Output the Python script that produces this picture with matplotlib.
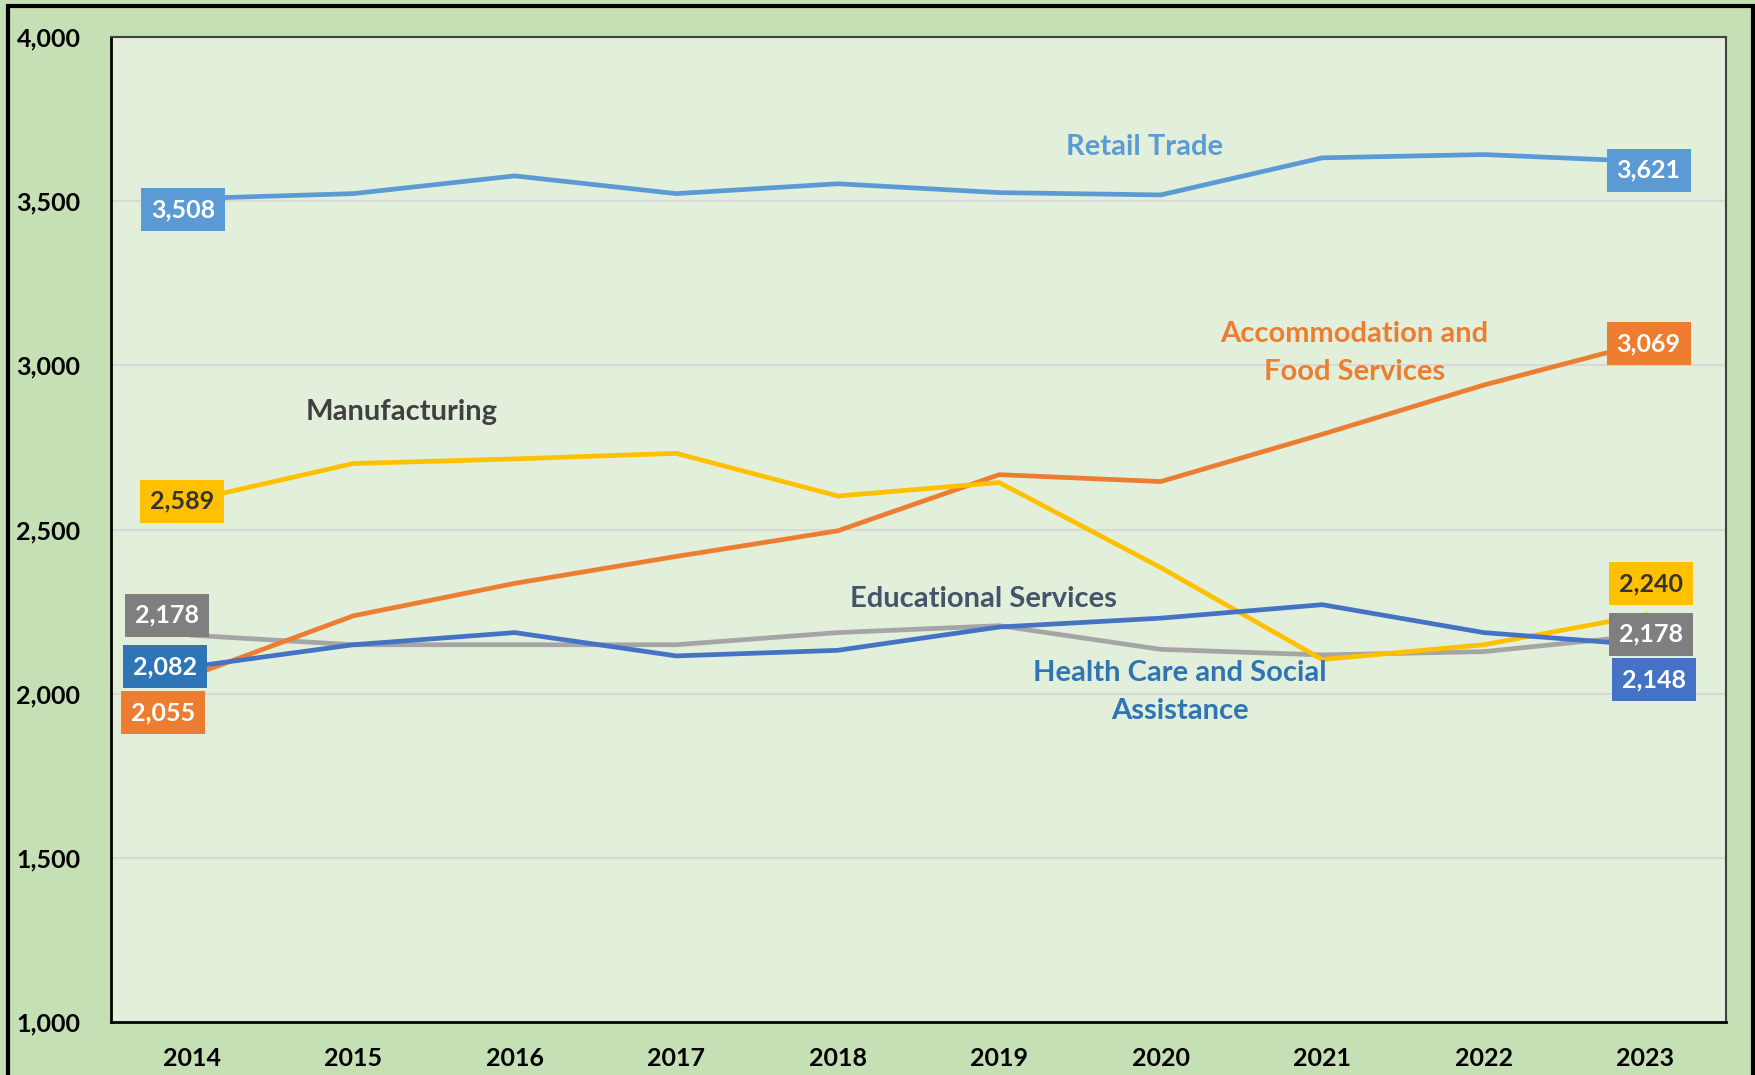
import matplotlib.pyplot as plt
from matplotlib.patches import Rectangle
from matplotlib.ticker import FuncFormatter

years = [2014, 2015, 2016, 2017, 2018, 2019, 2020, 2021, 2022, 2023]

retail = [3508, 3523, 3577, 3523, 3553, 3526, 3519, 3632, 3642, 3621]
accommodation = [2055, 2237, 2336, 2418, 2496, 2667, 2646, 2790, 2940, 3069]
manufacturing = [2589, 2701, 2715, 2732, 2602, 2643, 2384, 2104, 2149, 2240]
educational = [2178, 2149, 2149, 2149, 2186, 2207, 2135, 2118, 2128, 2178]
health = [2082, 2149, 2186, 2115, 2132, 2203, 2230, 2271, 2186, 2148]

plt.rcParams['font.family'] = ['Lato', 'DejaVu Sans']

fig = plt.figure(figsize=(17.56, 10.75), dpi=100)
fig.patch.set_facecolor('#C5E0B4')
ax = fig.add_axes([111 / 1756, 1 - 1022 / 1075, (1726 - 111) / 1756, (1022 - 37) / 1075])
ax.set_facecolor('#E2EFDA')

# outer frame
fig.patches.append(Rectangle((8 / 1756, -0.05), (1753 - 8) / 1756, 1.05 - 6 / 1075,
                             transform=fig.transFigure, fill=False,
                             edgecolor='black', linewidth=3))

lw = 3.4
ax.plot(years, retail, color='#5B9BD5', lw=lw, zorder=3)
ax.plot(years, accommodation, color='#ED7D31', lw=lw, zorder=3)
ax.plot(years, manufacturing, color='#FFC000', lw=lw, zorder=3)
ax.plot(years, educational, color='#A5A5A5', lw=lw, zorder=2)
ax.plot(years, health, color='#4472C4', lw=lw, zorder=3)

ax.set_xlim(2013.5, 2023.5)
ax.set_ylim(1000, 4000)
ax.set_yticks([1000, 1500, 2000, 2500, 3000, 3500, 4000])
ax.set_xticks(years)
ax.yaxis.set_major_formatter(FuncFormatter(lambda v, p: f'{int(v):,}'))
ax.grid(axis='y', color='#D9D9D9', lw=1.5, zorder=0)
ax.tick_params(length=0, labelsize=18)
ax.tick_params(axis='y', pad=22)
ax.tick_params(axis='x', pad=18)
for lab in ax.get_xticklabels() + ax.get_yticklabels():
    lab.set_fontweight('bold')
for s in ax.spines.values():
    s.set_color('#404040')
    s.set_linewidth(1.5)
ax.spines['left'].set_color('black')
ax.spines['bottom'].set_color('black')
ax.spines['left'].set_linewidth(2)
ax.spines['bottom'].set_linewidth(2)


def box_label(x, y, text, fc, dx, dy, tc='white'):
    k = 0.806
    ax.annotate(text, xy=(x, y), xytext=(dx * k, dy * k), textcoords='offset points',
                ha='center', va='center', fontsize=18, fontweight='bold', color=tc,
                bbox=dict(boxstyle='square,pad=0.4', fc=fc, ec='none'), zorder=5)


box_label(years[0], retail[0], f'{retail[0]:,}', '#5B9BD5', -8, -10)
box_label(years[0], educational[0], f'{educational[0]:,}', '#7F7F7F', -22, 18)
box_label(years[0], health[0], f'{health[0]:,}', '#2E75B6', -24, 0)
box_label(years[0], accommodation[0], f'{accommodation[0]:,}', '#ED7D31', -26, -33)
box_label(years[0], manufacturing[0], f'{manufacturing[0]:,}', '#FFC000', -9, -1, tc='#333333')

box_label(years[-1], retail[-1], f'{retail[-1]:,}', '#5B9BD5', 3, -8)
box_label(years[-1], accommodation[-1], f'{accommodation[-1]:,}', '#ED7D31', 3, -1)
box_label(years[-1], manufacturing[-1], f'{manufacturing[-1]:,}', '#FFC000', 5, 28, tc='#333333')
box_label(years[-1], educational[-1], f'{educational[-1]:,}', '#7F7F7F', 5, 1)
box_label(years[-1], health[-1], f'{health[-1]:,}', '#4472C4', 8, -31)

name_kw = dict(ha='center', va='center', fontsize=21, fontweight='bold', linespacing=1.55)
ax.text(2019.9, 3666, 'Retail Trade', color='#5B9BD5', **name_kw)
ax.text(2021.2, 3038, 'Accommodation and\nFood Services', color='#ED7D31', **name_kw)
ax.text(2015.3, 2858, 'Manufacturing', color='#404040', **name_kw)
ax.text(2018.9, 2288, 'Educational Services', color='#44546A', **name_kw)
ax.text(2020.12, 2005, 'Health Care and Social\nAssistance', color='#2E75B6', **name_kw)

fig.savefig('out.png', dpi=100, facecolor=fig.get_facecolor())
